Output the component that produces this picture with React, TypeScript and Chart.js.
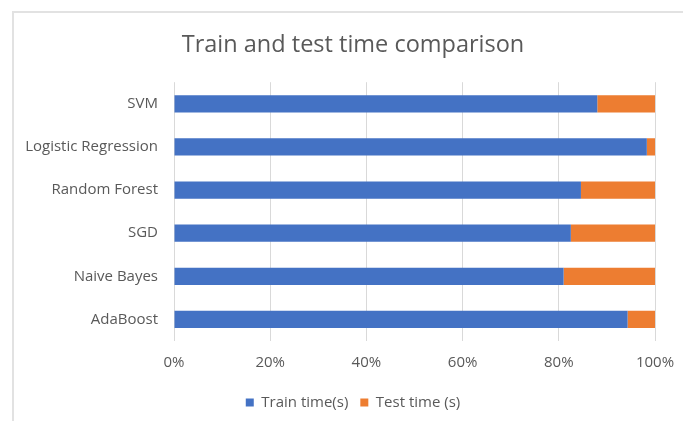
import React, { useEffect, useRef } from "react";
import { Chart, registerables } from "chart.js";

Chart.register(...registerables);

const categories = ["SVM", "Logistic Regression", "Random Forest", "SGD", "Naive Bayes", "AdaBoost"];
const trainShare = [88.0, 98.3, 84.6, 82.5, 81.0, 94.3];
const testShare = [12.0, 1.7, 15.4, 17.5, 19.0, 5.7];
const xTicks = [0, 20, 40, 60, 80, 100];
const seriesNames = ["Train time(s)", "Test time (s)"];
const titleText = "Train and test time comparison";

export default function App() {
  const ref = useRef<HTMLCanvasElement | null>(null);
  useEffect(() => {
    if (!ref.current) return;
    const textColor = "#595959";
    const font = "Open Sans";
    const chart = new Chart(ref.current, {
      type: "bar",
      data: {
        labels: categories,
        datasets: [
          { label: seriesNames[0], data: trainShare, backgroundColor: "#4472C4" },
          { label: seriesNames[1], data: testShare, backgroundColor: "#ED7D31" },
        ],
      },
      options: {
        indexAxis: "y",
        animation: false,
        responsive: false,
        maintainAspectRatio: false,
        datasets: { bar: { categoryPercentage: 1, barPercentage: 0.4 } },
        layout: { padding: { left: 0, right: 0, top: 0, bottom: 1 } },
        scales: {
          x: {
            stacked: true,
            min: 0,
            max: 100,
            afterBuildTicks: (s: any) => {
              s.ticks = xTicks.map((v) => ({ value: v }));
            },
            afterFit: (s: any) => {
              s.height = 42;
            },
            ticks: {
              color: textColor,
              font: { family: font, size: 15 },
              padding: 13,
              callback: (v: any) => v + "%",
            },
            grid: { color: "#d9d9d9", drawTicks: false },
            border: { display: false },
          },
          y: {
            stacked: true,
            ticks: { color: textColor, font: { family: font, size: 15 }, padding: 16 },
            grid: { display: false, drawTicks: false },
            border: { display: false },
            afterFit: (s: any) => {
              s.width = 174;
            },
          },
          spacer: {
            type: "linear",
            position: "right",
            display: true,
            ticks: { display: false },
            grid: { display: false, drawTicks: false },
            border: { display: false },
            afterFit: (s: any) => {
              s.width = 51;
            },
          },
        },
        plugins: {
          title: {
            display: true,
            text: titleText,
            color: textColor,
            font: { family: font, size: 23.5, weight: "normal" },
            padding: { top: 31, bottom: 23 },
          },
          legend: {
            position: "bottom",
            labels: {
              color: textColor,
              font: { family: font, size: 15 },
              boxWidth: 8,
              boxHeight: 8,
              padding: 12,
            },
          },
          tooltip: { enabled: false },
        },
      },
    } as any);
    return () => chart.destroy();
  }, []);
  return (
    <div style={{ position: "absolute", left: 0, top: 0, width: 683, height: 421, background: "#fff", overflow: "hidden" }}>
      <div
        style={{
          position: "absolute",
          left: 12,
          top: 11,
          right: 0,
          bottom: 0,
          borderLeft: "2px solid #e2e2e2",
          borderTop: "2px solid #e2e2e2",
        }}
      />
      <canvas ref={ref} width={706} height={421} style={{ position: "absolute", left: 0, top: 0, display: "block" }} />
    </div>
  );
}
